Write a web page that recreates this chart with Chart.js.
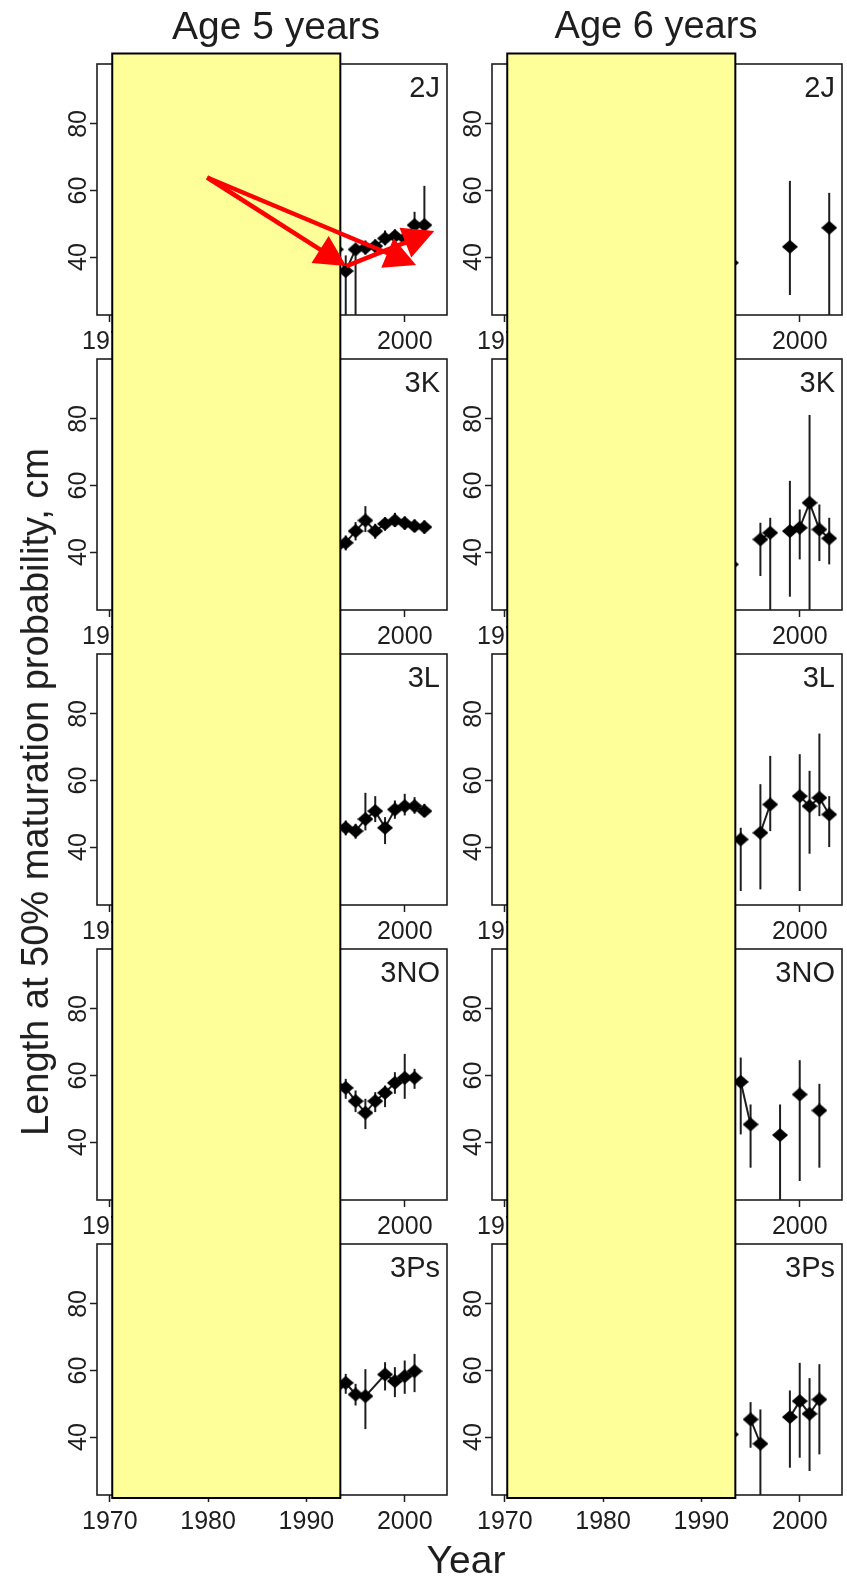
<!DOCTYPE html>
<html>
<head>
<meta charset="utf-8">
<script src="https://cdn.jsdelivr.net/npm/chart.js@4.4.0/dist/chart.umd.min.js"></script>
<style>
html,body{margin:0;padding:0;background:#fff;}
#fig{position:relative;width:847px;height:1587px;overflow:hidden;font-family:"Liberation Sans",Arial,sans-serif;}
canvas.panel{position:absolute;}
#overlay{position:absolute;left:0;top:0;z-index:5;pointer-events:none;}
.txt{position:absolute;white-space:nowrap;color:#1e1e1e;line-height:1;z-index:6;}
</style>
</head>
<body>
<div id="fig">
  <canvas id="overlay" width="847" height="1587"></canvas>
</div>
<script>
// ---------------- data ----------------
const xTicks = [1970, 1980, 1990, 2000];
const yTicks = [40, 60, 80];
const xRange = [1968.7, 2004.3];
const yRange = [22.6, 98];
const areas = ['2J', '3K', '3L', '3NO', '3Ps'];
const ageTitles = ['Age 5 years', 'Age 6 years'];
const yTitle = 'Length at 50% maturation probability, cm';
const xTitle = 'Year';

// shaded (yellow) year span and arrow annotations (data units)
const shadeYears = [1970.25, 1993.45];
const arrowFromYear = [1979.9, 1979.9, 1994.05];
const arrowFromLen  = [63.9, 63.9, 37.3];
const arrowToYear   = [1994.05, 2001.15, 2003.0];
const arrowToLen    = [37.3, 37.6, 47.8];

// Age 5 years
const yr5_2J  = [1993, 1994, 1995, 1996, 1997, 1998, 1999, 2000, 2001, 2002];
const len5_2J = [42.3, 35.8, 42.3, 42.8, 43.3, 45.6, 46.3, 45.6, 49.6, 49.6];
const lo5_2J  = [39.5, 15, 15, 40.8, 41.3, 43.5, 44.3, 43.6, 47.0, 46.0];
const hi5_2J  = [45.0, 40.5, 44.0, 45.0, 45.3, 48.0, 48.3, 47.6, 53.6, 61.4];

const yr5_3K  = [1993, 1994, 1995, 1996, 1997, 1998, 1999, 2000, 2001, 2002];
const len5_3K = [41.5, 42.8, 46.3, 49.5, 46.3, 48.5, 49.5, 48.7, 47.8, 47.5];
const lo5_3K  = [39.0, 40.5, 43.5, 46.0, 44.0, 46.5, 47.5, 46.7, 46.0, 45.5];
const hi5_3K  = [44.0, 45.0, 49.0, 53.8, 48.5, 50.5, 51.8, 50.7, 49.8, 49.5];

const yr5_3L  = [1993, 1994, 1995, 1996, 1997, 1998, 1999, 2000, 2001, 2002];
const len5_3L = [46.0, 45.8, 44.8, 48.4, 50.8, 45.8, 51.3, 52.3, 52.3, 50.8];
const lo5_3L  = [43.5, 43.5, 42.5, 45.0, 47.5, 40.9, 48.5, 49.5, 50.0, 49.0];
const hi5_3L  = [48.5, 48.0, 47.0, 56.3, 55.3, 49.0, 54.0, 56.0, 55.0, 53.0];

const yr5_3NO  = [1993, 1994, 1995, 1996, 1997, 1998, 1999, 2000, 2001];
const len5_3NO = [57.0, 56.3, 52.3, 48.8, 52.3, 54.8, 57.8, 59.3, 59.3];
const lo5_3NO  = [54.0, 53.0, 49.0, 43.9, 49.0, 50.5, 54.5, 53.0, 56.0];
const hi5_3NO  = [60.0, 59.0, 55.5, 53.0, 55.0, 57.0, 61.0, 66.5, 62.0];

const yr5_3Ps  = [1993, 1994, 1995, 1996, 1998, 1999, 2000, 2001];
const len5_3Ps = [55.0, 56.3, 52.8, 52.3, 58.8, 56.8, 58.3, 59.8];
const lo5_3Ps  = [51.5, 53.0, 49.5, 42.4, 54.0, 52.0, 53.0, 53.5];
const hi5_3Ps  = [58.5, 59.0, 56.0, 60.4, 62.5, 61.0, 63.0, 65.0];

// Age 6 years (null = no estimate that year)
const yr6 = [1993, 1994, 1995, 1996, 1997, 1998, 1999, 2000, 2001, 2002, 2003];
const len6_2J = [38.3, null, null, null, null, null, 43.1, null, null, null, 48.8];
const lo6_2J  = [33.0, null, null, null, null, null, 28.6, null, null, null, 15.0];
const hi6_2J  = [43.0, null, null, null, null, null, 62.9, null, null, null, 59.3];

const len6_3K = [36.3, null, null, 43.8, 45.8, null, 46.3, 47.3, 54.8, 46.8, 44.1];
const lo6_3K  = [31.0, null, null, 32.8, 15.0, null, 26.6, 37.8, 15.0, 37.3, 36.3];
const hi6_3K  = [42.0, null, null, 48.8, 50.3, null, 61.4, 52.8, 81.2, 54.3, 50.3];

const len6_3L = [null, 42.3, null, 44.3, 52.8, null, null, 55.3, 52.3, 54.8, 49.8];
const lo6_3L  = [null, 26.8, null, 27.3, 44.8, null, null, 26.8, 38.0, 49.3, 40.0];
const hi6_3L  = [null, 45.8, null, 58.9, 67.4, null, null, 67.9, 62.9, 74.1, 55.3];

const len6_3NO = [null, 58.1, 45.3, null, null, 42.1, null, 54.3, null, 49.5, null];
const lo6_3NO  = [null, 42.3, 32.3, null, null, 15.0, null, 28.3, null, 32.3, null];
const hi6_3NO  = [null, 65.4, 51.3, null, null, 51.3, null, 64.6, null, 57.5, null];

const len6_3Ps = [40.8, null, 45.3, 38.0, null, null, 46.0, 50.8, 47.0, 51.3, null];
const lo6_3Ps  = [35.0, null, 36.8, 15.0, null, null, 30.8, 33.8, 29.8, 34.8, null];
const hi6_3Ps  = [47.0, null, 50.5, 48.3, null, null, 54.0, 62.3, 57.7, 61.9, null];

// ---------------- layout / style ----------------
const FONT = '"Liberation Sans", Arial, sans-serif';
const INK = '#1e1e1e';
const AX_W = 50, AX_H = 45, PAD_T = 8, PAD_R = 8;
const PANEL_W = 351, PANEL_H = 252;
const colLeft = [97, 492];
const rowTop = [63, 358, 653, 948, 1243];
const TICK_LEN = 7;

// filled diamond marker (slightly wider than tall, as in the source)
const diamond = document.createElement('canvas');
diamond.width = 16; diamond.height = 14;
{
  const g = diamond.getContext('2d');
  g.fillStyle = '#000';
  g.beginPath();
  g.moveTo(8, 0); g.lineTo(16, 7); g.lineTo(8, 14); g.lineTo(0, 7);
  g.closePath(); g.fill();
}

const panels = [
  [
    {yrs: yr5_2J,  len: len5_2J,  lo: lo5_2J,  hi: hi5_2J},
    {yrs: yr5_3K,  len: len5_3K,  lo: lo5_3K,  hi: hi5_3K},
    {yrs: yr5_3L,  len: len5_3L,  lo: lo5_3L,  hi: hi5_3L},
    {yrs: yr5_3NO, len: len5_3NO, lo: lo5_3NO, hi: hi5_3NO},
    {yrs: yr5_3Ps, len: len5_3Ps, lo: lo5_3Ps, hi: hi5_3Ps}
  ],
  [
    {yrs: yr6, len: len6_2J,  lo: lo6_2J,  hi: hi6_2J},
    {yrs: yr6, len: len6_3K,  lo: lo6_3K,  hi: hi6_3K},
    {yrs: yr6, len: len6_3L,  lo: lo6_3L,  hi: hi6_3L},
    {yrs: yr6, len: len6_3NO, lo: lo6_3NO, hi: hi6_3NO},
    {yrs: yr6, len: len6_3Ps, lo: lo6_3Ps, hi: hi6_3Ps}
  ]
];

const fig = document.getElementById('fig');
const charts = [[], []];

function makeChart(col, row) {
  const p = panels[col][row];
  const label = areas[row];
  const cv = document.createElement('canvas');
  cv.className = 'panel';
  const W = AX_W + PANEL_W + PAD_R, H = PAD_T + PANEL_H + AX_H;
  cv.width = W; cv.height = H;
  cv.style.left = (colLeft[col] - AX_W) + 'px';
  cv.style.top = (rowTop[row] - PAD_T) + 'px';
  cv.style.width = W + 'px'; cv.style.height = H + 'px';
  fig.appendChild(cv);

  const errorBars = {
    id: 'errorBars',
    beforeDatasetsDraw(chart) {
      const {ctx, chartArea: a, scales: {x, y}} = chart;
      ctx.save();
      ctx.beginPath();
      ctx.rect(a.left, a.top, a.right - a.left, a.bottom - a.top);
      ctx.clip();
      ctx.strokeStyle = INK;
      ctx.lineWidth = 2;
      p.yrs.forEach((yr, i) => {
        if (p.lo[i] == null || p.hi[i] == null) return;
        const px = x.getPixelForValue(yr);
        ctx.beginPath();
        ctx.moveTo(px, y.getPixelForValue(p.lo[i]));
        ctx.lineTo(px, y.getPixelForValue(p.hi[i]));
        ctx.stroke();
      });
      ctx.restore();
    }
  };
  const frame = {
    id: 'frame',
    afterDraw(chart) {
      const {ctx, chartArea: a, scales: {y}} = chart;
      ctx.save();
      ctx.strokeStyle = INK;
      ctx.lineWidth = 1.6;
      ctx.strokeRect(a.left, a.top, a.right - a.left, a.bottom - a.top);
      // y tick labels, parallel to the axis
      ctx.fillStyle = INK;
      ctx.font = '25px ' + FONT;
      yTicks.forEach(v => {
        const py = y.getPixelForValue(v);
        ctx.save();
        ctx.translate(a.left - TICK_LEN - 4, py);
        ctx.rotate(-Math.PI / 2);
        ctx.textAlign = 'center';
        ctx.textBaseline = 'alphabetic';
        ctx.fillText(String(v), 0, 0);
        ctx.restore();
      });
      // panel label
      ctx.font = '29px ' + FONT;
      ctx.textAlign = 'right';
      ctx.textBaseline = 'alphabetic';
      ctx.fillText(label, a.right - 7, a.top + 33);
      ctx.restore();
    }
  };

  const data = p.yrs.map((yr, i) => ({x: yr, y: p.len[i]}));
  const chart = new Chart(cv, {
    type: 'line',
    data: {
      datasets: [{
        data: data,
        borderColor: INK,
        backgroundColor: '#000',
        borderWidth: 2,
        pointStyle: diamond,
        pointRadius: 7,
        spanGaps: false,
        tension: 0,
        showLine: true
      }]
    },
    options: {
      responsive: false,
      animation: false,
      devicePixelRatio: 1,
      layout: {padding: {left: 0, top: PAD_T, right: PAD_R, bottom: 0}},
      plugins: {legend: {display: false}, tooltip: {enabled: false}, title: {display: false}},
      scales: {
        x: {
          type: 'linear', position: 'bottom',
          min: xRange[0], max: xRange[1],
          afterBuildTicks: s => { s.ticks = xTicks.map(v => ({value: v})); },
          afterFit: s => { s.height = AX_H; },
          grid: {drawOnChartArea: false, drawTicks: true, tickLength: TICK_LEN, tickColor: INK, tickWidth: 1.5},
          border: {display: false},
          ticks: {color: INK, font: {family: FONT, size: 25}, padding: 5, maxRotation: 0, minRotation: 0,
                  autoSkip: false, callback: v => String(v)}
        },
        y: {
          type: 'linear', position: 'left',
          min: yRange[0], max: yRange[1],
          afterBuildTicks: s => { s.ticks = yTicks.map(v => ({value: v})); },
          afterFit: s => { s.width = AX_W; },
          grid: {drawOnChartArea: false, drawTicks: true, tickLength: TICK_LEN, tickColor: INK, tickWidth: 1.5},
          border: {display: false},
          ticks: {display: false}
        }
      }
    },
    plugins: [errorBars, frame]
  });
  charts[col][row] = chart;
}

for (let c = 0; c < 2; c++) for (let r = 0; r < 5; r++) makeChart(c, r);

// ---------------- overlay: shaded blocks + arrows ----------------
const ov = document.getElementById('overlay');
const octx = ov.getContext('2d');
for (let c = 0; c < 2; c++) {
  const top = charts[c][0], bot = charts[c][4];
  const xs = top.scales.x;
  const ox = top.canvas.offsetLeft;
  const x1 = ox + xs.getPixelForValue(shadeYears[0]);
  const x2 = ox + xs.getPixelForValue(shadeYears[1]);
  const y1 = top.canvas.offsetTop + top.chartArea.top - 10.5;
  const y2 = bot.canvas.offsetTop + bot.chartArea.bottom + 3;
  octx.fillStyle = '#FFFF99';
  octx.fillRect(x1, y1, x2 - x1, y2 - y1);
  octx.strokeStyle = '#000';
  octx.lineWidth = 2;
  octx.strokeRect(x1, y1, x2 - x1, y2 - y1);
}
function drawArrow(ctx, xa, ya, xb, yb) {
  const L = 31, Wh = 16;
  const dx = xb - xa, dy = yb - ya, len = Math.hypot(dx, dy);
  const ux = dx / len, uy = dy / len;
  const bx = xb - ux * L, by = yb - uy * L;
  ctx.beginPath();
  ctx.moveTo(xa, ya);
  ctx.lineTo(bx + ux * 3, by + uy * 3);
  ctx.stroke();
  ctx.beginPath();
  ctx.moveTo(xb, yb);
  ctx.lineTo(bx - uy * Wh, by + ux * Wh);
  ctx.lineTo(bx + uy * Wh, by - ux * Wh);
  ctx.closePath();
  ctx.fill();
}
{
  const ch = charts[0][0];
  const ox = ch.canvas.offsetLeft, oy = ch.canvas.offsetTop;
  const xs = ch.scales.x, ys = ch.scales.y;
  octx.strokeStyle = '#FF0000';
  octx.fillStyle = '#FF0000';
  octx.lineWidth = 4.5;
  octx.lineCap = 'butt';
  for (let i = 0; i < arrowFromYear.length; i++) {
    drawArrow(octx,
      ox + xs.getPixelForValue(arrowFromYear[i]), oy + ys.getPixelForValue(arrowFromLen[i]),
      ox + xs.getPixelForValue(arrowToYear[i]),   oy + ys.getPixelForValue(arrowToLen[i]));
  }
}

// ---------------- text ----------------
function addText(str, cx, baseline, size, rotate) {
  const d = document.createElement('div');
  d.className = 'txt';
  d.textContent = str;
  d.style.fontSize = size + 'px';
  if (rotate) {
    d.style.left = cx + 'px';
    d.style.top = baseline + 'px';
    d.style.transform = 'translate(-50%, -50%) rotate(-90deg)';
  } else {
    d.style.left = cx + 'px';
    d.style.top = (baseline - 0.8465 * size) + 'px';
    d.style.transform = 'translateX(-50%)';
  }
  fig.appendChild(d);
}
addText(ageTitles[0], 276, 39, 39, false);
addText(ageTitles[1], 656, 38.5, 38, false);
addText(xTitle, 466, 1573, 39, false);
addText(yTitle, 35, 792, 38, true);
</script>
</body>
</html>
